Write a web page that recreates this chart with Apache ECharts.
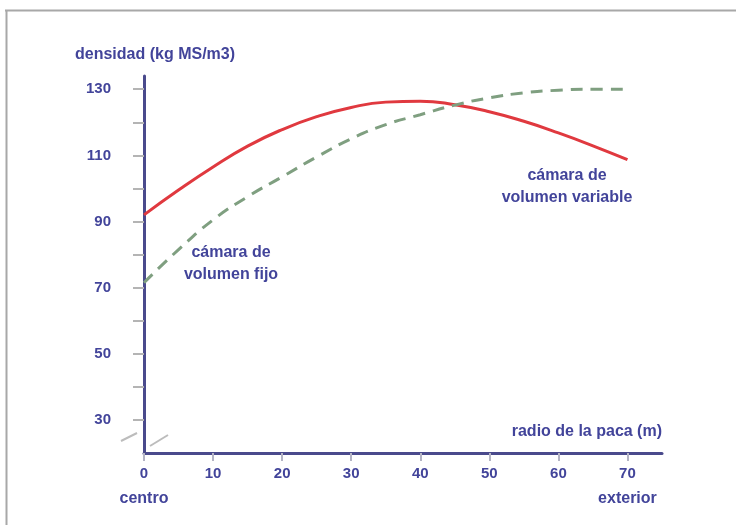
<!DOCTYPE html>
<html lang="es">
<head>
    <meta charset="UTF-8">
    <title>densidad</title>
    <script src="https://cdn.jsdelivr.net/npm/echarts@6/dist/echarts.min.js"></script>
    <style>
        html, body { margin: 0; padding: 0; background: #fff; }
    </style>
</head>
<body>
<div id="main" style="width: 736px;height:525px;"></div>

<script>
    // radio de la paca (m)
    var radio = [0, 5, 10, 15, 20, 25, 30, 35, 40, 45, 50, 55, 60, 65, 70];
    // cámara de volumen variable
    var volVariable = [92, 99.5, 106.5, 112.8, 117.8, 121.7, 124.5, 126.1, 126.4, 125.3, 123.2, 120.3, 116.8, 112.9, 108.7];
    // cámara de volumen fijo
    var volFijo = [71.5, 81.5, 90.5, 97.5, 103.5, 109.5, 115, 119.3, 122.3, 125.2, 127.4, 128.9, 129.7, 130, 130];
    var yTicks = [30, 50, 70, 90, 110, 130];

    var azul = '#42449a';
    var fuente = 'Liberation Sans';

    function pares(ys) {
        var out = [];
        for (var i = 0; i < radio.length; i++) {
            out.push([radio[i], ys[i]]);
        }
        return out;
    }

    // grid 0: ejes completos (20..134, 0..75); grid 1: misma escala, solo marcas y etiquetas (30..130, 0..70)
    var px = (453 - 76) / (134 - 20);
    var pxX = (662 - 144) / 75;
    var top1 = 76 + (134 - 130) * px;
    var bottom1 = 525 - (76 + (134 - 30) * px);
    var right1 = 736 - (144 + 70 * pxX);

    var chart = echarts.init(document.getElementById('main'));
    var option = {
        backgroundColor: '#fff',
        animation: false,
        grid: [
            { left: 144, right: 74, top: 76, bottom: 72 },
            { left: 144, right: right1, top: top1, bottom: bottom1 }
        ],
        xAxis: [{
            type: 'value',
            gridIndex: 0,
            min: 0,
            max: 75,
            splitLine: { show: false },
            axisLine: { lineStyle: { color: '#4a4a8c', width: 3 } },
            axisTick: { show: false },
            axisLabel: { show: false }
        }, {
            type: 'value',
            gridIndex: 1,
            min: 0,
            max: 70,
            interval: 10,
            offset: 525 - bottom1 > 0 ? 453 - (525 - bottom1) : 0,
            splitLine: { show: false },
            axisLine: { show: false },
            axisTick: { show: true, length: 8, lineStyle: { color: '#b4b4c4', width: 2 } },
            axisLabel: {
                margin: 8,
                color: azul,
                fontFamily: fuente,
                fontWeight: 'bold',
                fontSize: 15,
                lineHeight: 25,
                formatter: function (v) {
                    if (v === 0) return '0\n{s|centro}';
                    if (v === 70) return '70\n{s|exterior}';
                    return String(v);
                },
                rich: {
                    s: { color: azul, fontFamily: fuente, fontWeight: 'bold', fontSize: 16, lineHeight: 25 }
                }
            }
        }],
        yAxis: [{
            type: 'value',
            gridIndex: 0,
            min: 20,
            max: 134,
            splitLine: { show: false },
            axisLine: { show: true, lineStyle: { color: '#4a4a8c', width: 3 } },
            axisTick: { show: false },
            axisLabel: { show: false }
        }, {
            type: 'value',
            gridIndex: 1,
            min: 30,
            max: 130,
            interval: 10,
            position: 'left',
            offset: 7,
            splitLine: { show: false },
            axisLine: { show: false },
            axisTick: { show: true, length: 11, lineStyle: { color: '#b4b4b4', width: 2 } },
            axisLabel: {
                margin: 26,
                color: azul,
                fontFamily: fuente,
                fontWeight: 'bold',
                fontSize: 15,
                formatter: function (v) {
                    return yTicks.indexOf(v) >= 0 ? String(v) : '';
                }
            }
        }],
        series: [{
            name: 'cámara de volumen variable',
            type: 'line',
            xAxisIndex: 0,
            yAxisIndex: 0,
            smooth: true,
            symbol: 'none',
            lineStyle: { color: '#e0393f', width: 3 },
            data: pares(volVariable)
        }, {
            name: 'cámara de volumen fijo',
            type: 'line',
            xAxisIndex: 0,
            yAxisIndex: 0,
            smooth: true,
            symbol: 'none',
            lineStyle: { color: '#7f9f80', width: 3, type: [12, 8] },
            data: pares(volFijo)
        }],
        graphic: [
            { type: 'line', shape: { x1: 5, y1: 10.5, x2: 736, y2: 10.5 }, style: { stroke: '#a8a8a8', lineWidth: 2 } },
            { type: 'line', shape: { x1: 6.5, y1: 10, x2: 6.5, y2: 525 }, style: { stroke: '#a8a8a8', lineWidth: 2 } },
            // marcas de eje cortado
            { type: 'line', shape: { x1: 121, y1: 441, x2: 137, y2: 433 }, style: { stroke: '#bcbcbc', lineWidth: 2 } },
            { type: 'line', shape: { x1: 150, y1: 446, x2: 168, y2: 435 }, style: { stroke: '#bcbcbc', lineWidth: 2 } },
            {
                type: 'text', x: 75, y: 55,
                style: { text: 'densidad (kg MS/m3)', fill: azul, font: 'bold 16px ' + fuente, verticalAlign: 'middle' }
            },
            {
                type: 'text', x: 662, y: 432,
                style: { text: 'radio de la paca (m)', fill: azul, font: 'bold 16px ' + fuente, align: 'right', verticalAlign: 'middle' }
            },
            {
                type: 'text', x: 231, y: 264,
                style: { text: 'cámara de\nvolumen fijo', fill: azul, font: 'bold 16px ' + fuente, align: 'center', verticalAlign: 'middle', lineHeight: 22 }
            },
            {
                type: 'text', x: 567, y: 187,
                style: { text: 'cámara de\nvolumen variable', fill: azul, font: 'bold 16px ' + fuente, align: 'center', verticalAlign: 'middle', lineHeight: 22 }
            }
        ]
    };
    chart.setOption(option);
</script>
</body>
</html>
